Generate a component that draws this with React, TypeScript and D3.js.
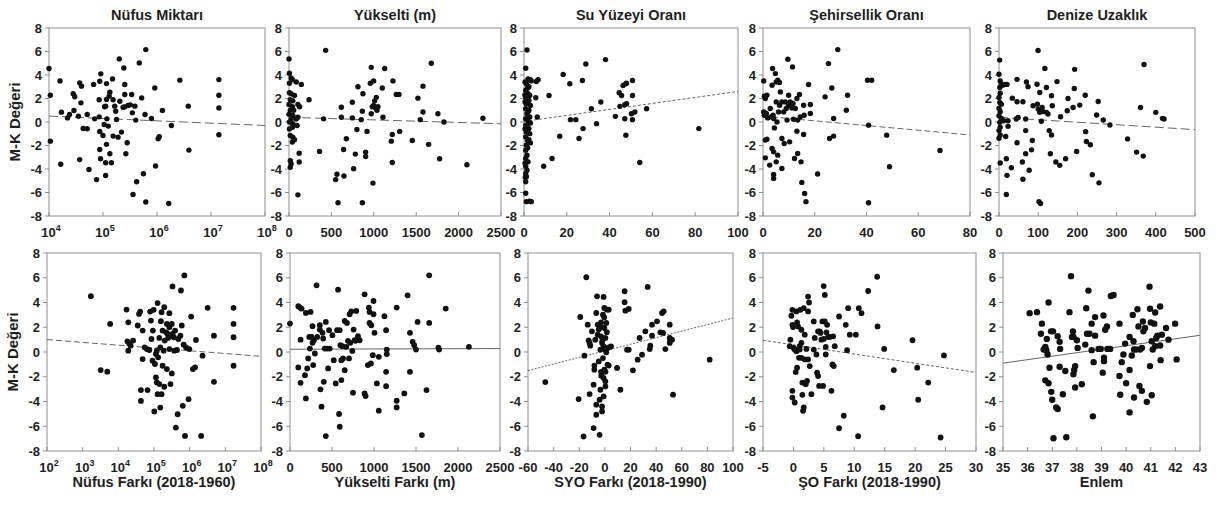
import * as d3 from 'd3';

type Pt = [number, number];

const MK_TICKS = [-8, -6, -4, -2, 0, 2, 4, 6, 8];

const TITLES = ['Nüfus Miktarı', 'Yükselti (m)', 'Su Yüzeyi Oranı', 'Şehirsellik Oranı', 'Denize Uzaklık'];
const X_LABELS = ['Nüfus Farkı (2018-1960)', 'Yükselti Farkı (m)', 'SYO Farkı (2018-1990)', 'ŞO Farkı (2018-1990)', 'Enlem'];
const Y_LABEL = 'M-K Değeri';

// top row
const nufusMiktari: Pt[] = [
  [1.0e4, 4.55], [1.06e4, 2.28], [1.06e4, -1.63], [1.6e4, 3.5], [1.7e4, 0.84], [1.65e4, -3.6], [2.2e4, 0.35], [2.4e4, 0.64],
  [2.8e4, 2.4], [3.0e4, 2.15], [2.9e4, 0.98], [3.5e4, 0.5], [3.7e4, 3.33], [4.0e4, 3.05], [3.9e4, 1.63], [3.7e4, -3.2],
  [4.3e4, -0.55], [5.1e4, -0.58], [5.1e4, 0.64], [5.5e4, -4.04], [6.7e4, 3.2], [7.0e4, 0.27], [7.6e4, -4.9], [8.5e4, 0.44],
  [8.5e4, 1.9], [8.7e4, 3.47], [9.1e4, 4.1], [8.7e4, -0.8], [8.7e4, -2.34], [9.0e4, -3.13], [1.0e5, -1.15], [1.05e5, -0.21],
  [1.07e5, 1.3], [1.12e5, 1.35], [1.16e5, 3.27], [1.16e5, 1.91], [1.18e5, 0.27], [1.12e5, -4.55], [1.12e5, -3.47], [1.16e5, -1.9],
  [1.25e5, -0.35], [1.3e5, 2.2], [1.34e5, 2.54], [1.34e5, -2.7], [1.43e5, -3.47], [1.5e5, 3.67], [1.54e5, 1.9], [1.54e5, -1.2],
  [1.65e5, 1.35], [1.72e5, 0.92], [1.78e5, 0.21], [2.0e5, 5.37], [2.05e5, 1.77], [1.9e5, -1.29], [2.2e5, -0.86], [2.36e5, 1.26],
  [2.43e5, 4.6], [2.53e5, 2.34], [2.53e5, 1.29], [2.65e5, -2.7], [2.53e5, 3.19], [2.8e5, -1.77], [2.9e5, 1.4], [3.2e5, 1.46],
  [3.4e5, 2.34], [3.5e5, 0.78], [3.6e5, -6.16], [3.9e5, 1.35], [4.2e5, -5.08], [4.05e5, 0.16], [4.7e5, 5.03], [5.2e5, 2.05],
  [5.6e5, -4.4], [6.0e5, 0.64], [6.2e5, 6.16], [6.2e5, -6.81], [7.9e5, 0.3], [9.1e5, 2.9], [9.4e5, -3.75], [1.05e6, -1.43],
  [1.1e6, -1.26], [1.26e6, 0.98], [1.65e6, -6.93], [1.85e6, -0.3], [2.65e6, 3.56], [3.8e6, 1.35], [3.9e6, -2.39],
  [1.4e7, 3.61], [1.4e7, 2.28], [1.4e7, 1.2], [1.4e7, -1.09],
];

const yukselti: Pt[] = [
  [0, 5.37], [5, 4.15], [25, 3.75], [40, 3.6], [5, 3.3], [85, 3.4], [145, 3.2], [5, 2.5], [25, 2.4], [65, 2.25], [15, 1.9],
  [45, 1.8], [0, 1.5], [40, 1.3], [105, 1.5], [125, 1.3], [15, 1.0], [55, 1.0], [0, 0.65], [45, 0.55], [25, 0.25], [85, 0.25],
  [105, 0.4], [5, 0], [45, -0.15], [95, -0.3], [5, -0.6], [40, -0.45], [15, -1.15], [45, -1.3], [65, -1.5], [40, -1.7],
  [120, -2.65], [15, -3.3], [25, -3.55], [120, -3.4], [15, -3.85], [105, -6.2], [236, 1.9], [360, -2.5], [408, 0.27],
  [432, 6.1], [550, -4.9], [566, -4.45], [578, -6.87], [617, 1.26], [617, 0.4], [648, -4.6], [644, -2.34], [676, -1.43],
  [747, 0.35], [762, -3.98], [747, 1.68], [782, -2.73], [813, 3.0], [801, -0.64], [852, 0.2], [865, -6.87], [872, 2.4],
  [865, 0.92], [904, -2.56], [904, -2.93], [920, -0.8], [959, 3.3], [970, 4.65], [970, 0.7], [982, 1.3], [998, 3.5],
  [990, -5.2], [998, 1.4], [1010, 1.8], [1022, 1.2], [1030, 2.1], [1037, 1.0], [1049, 1.3], [1100, 2.9], [1108, 0.4],
  [1128, 4.55], [1206, -1.63], [1218, -1.07], [1226, 3.5], [1218, -3.45], [1265, 2.35], [1297, 2.35], [1305, -0.8],
  [1454, -1.57], [1520, 2.03], [1548, 0.2], [1580, 0.85], [1580, 3.05], [1678, 5.0], [1646, -1.9], [1756, 0.7],
  [1776, -3.13], [1827, 0], [2098, -3.64], [2287, 0.32],
];

const suYuzeyi: Pt[] = [
  [1.4, 6.13], [0.8, 4.58], [1.9, 3.67], [3.0, 3.6], [1.1, 3.25], [2.3, 3.0], [0.8, 2.7], [1.9, 2.4], [2.7, 2.25], [0.8, 2.06],
  [2.3, 1.84], [1.1, 1.55], [3.0, 1.41], [0.8, 1.13], [2.3, 1.0], [1.4, 0.7], [2.7, 0.42], [0.8, 0.28], [1.9, 0.08], [3.0, -0.08],
  [0.8, -0.28], [2.3, -0.56], [1.1, -0.85], [2.7, -0.99], [0.8, -1.27], [2.3, -1.5], [3.0, -1.78], [1.1, -1.98], [0.8, -2.4],
  [1.4, -2.83], [0.8, -3.1], [1.9, -3.39], [0.8, -3.76], [1.4, -4.1], [0.8, -4.38], [1.1, -4.66], [0.8, -5.08], [0.8, -6.07],
  [1.1, -6.78], [2.7, -6.75], [3.4, -6.78], [0.5, 1.7], [1.7, 2.9], [0.5, -0.6], [1.7, -1.6], [0.5, -3.5], [1.7, -2.2],
  [0.5, 3.4], [2.0, 0.9], [0.6, -4.7], [1.2, 1.9], [0.4, 2.3], [1.5, -0.4],
  [5.8, 3.45], [6.6, 3.59], [5.5, 2.06], [6.2, 0.42], [3.4, 3.5], [11.7, 2.26], [9.2, -3.76], [13.1, -3.1], [16.7, -1.21],
  [18.3, 4.04], [21.4, 3.25], [21.7, 0.2], [24.2, 0.2], [25.7, -1.41], [27.3, 3.53], [27.6, -0.56], [28.9, 4.94], [31.5, 1.13],
  [33.9, -0.14], [35.9, 1.7], [38.1, 5.31], [42.7, 0.48], [44.5, 2.49], [44.8, 1.33], [45.6, 2.26], [46.3, 3.11], [47.6, 3.25],
  [47.9, 3.3], [47.1, 1.47], [47.9, 1.55], [47.1, 0.28], [47.6, -1.13], [50.7, 3.53], [50.7, 2.26], [50.2, 0.7], [50.7, 0.2],
  [51.8, 0.85], [54.1, -3.45], [57.3, 1.13], [81.7, -0.56],
];

const sehirsellik: Pt[] = [
  [0.26, 3.5], [0.5, 2.2], [0.9, 2.0], [1.5, 2.28], [0.26, 0.86], [0.5, 0.58], [1.3, 0.72], [1.8, 0.35], [0.9, -1.54], [1.5, -1.46],
  [0.9, -3.05], [2.8, 1.15], [3.1, 0.44], [2.6, -3.67], [3.5, 3.13], [3.7, 4.55], [3.9, 0.58], [4.1, 0.3], [4.4, -0.5],
  [3.5, -2.25], [4.1, -2.54], [4.1, -4.46], [4.1, -4.8], [4.8, 4.12], [5.1, 3.41], [5.7, 3.55], [5.1, 1.71], [5.4, 0.0],
  [5.1, -3.39], [5.7, -2.82], [6.4, 3.36], [6.7, 2.56], [6.4, 1.43], [6.0, 0.86], [7.3, 1.71], [7.3, -1.4], [7.3, -3.95],
  [8.0, 0.86], [8.2, -1.83], [8.6, 1.71], [9.0, 1.15], [9.3, 0.16], [9.9, 1.43], [9.9, 2.28], [10.3, -1.69], [10.5, 1.71],
  [11.2, 1.2], [11.6, 1.57], [11.4, 4.69], [11.8, 0.24], [12.2, -3.1], [12.5, 1.15], [13.1, 2.0], [13.4, -2.68], [13.1, -0.78],
  [13.4, 0.16], [14.1, 2.34], [14.7, -3.39], [14.4, 0.44], [15.0, -5.14], [15.7, -1.06], [15.7, 1.43], [16.1, -6.08],
  [16.6, -6.78], [15.9, 0.58], [17.6, 3.19], [18.3, 1.49], [18.3, 0.72], [9.6, 5.34], [21.1, -4.43], [24.0, 2.14], [25.3, 4.97],
  [25.7, -1.4], [26.6, 2.9], [27.3, 0.3], [27.3, -1.2], [28.9, 6.16], [32.2, 1.0], [32.7, 2.28], [40.4, 3.55], [40.8, -0.27],
  [40.8, -6.87], [42.0, 3.55], [47.8, -1.12], [48.9, -3.81], [68.4, -2.42],
];

const denizeUzaklik: Pt[] = [
  [1.7, 5.27], [0, 4.06], [3, 3.5], [6, 3.2], [2, 2.93], [9, 3.13], [14.5, 3.2], [3, 2.45], [0, 2.08], [2, 1.66], [6, 1.52],
  [0, 1.15], [3, 0.87], [0, 0.54], [6, 0.31], [2, -0.03], [3, -0.45], [0, -0.73], [3, -1.1], [0, -1.38], [3, -3.49],
  [12, 0.11], [17, -1.24], [20.4, 3.2], [18.7, -3.13], [20.4, -4.54], [18.7, -6.17], [23, 0.11], [23, -0.37], [31.5, -3.89],
  [34, 2.03], [46, 3.63], [46, 1.72], [44, 0.25], [46, -1.77], [48.6, 0.39], [59.6, -3.41], [61, -4.87], [61, 1.72], [68, 0.25],
  [70, 3.41], [68, -0.73], [68, -2.7], [74, 3.01], [77, -4.11], [83, -2.37], [85, -1.58], [87, 1.38], [98, 1.52], [99.7, 6.08],
  [97, 3.21], [100, 1.1], [104, 0.82], [102, -6.79], [106, -6.93], [104, 2.51], [108, 1.1], [110, 1.24], [108, 0.06], [112, 0.9],
  [117, 4.56], [121, 2.93], [121, 0.82], [125, 0.68], [128, -0.73], [131, -2.7], [134, 2.23], [136, 1.38], [134, -1.1],
  [145, -3.41], [148, 3.44], [155, -3.69], [157, 0.45], [170, -3.13], [174, 0.96], [176, 2.0], [189, 1.24], [192, 2.85],
  [193, 4.48], [198, -2.51], [206, 1.44], [220, 2.28], [221, -0.82], [223, -1.66], [233, -1.94], [238, -4.48], [249, 0.59],
  [253, 1.75], [255, -5.18], [266, 0.17], [283, -0.25], [328, -1.44], [351, -2.56], [361, 1.24], [368, -2.9], [370, 4.9],
  [400, 0.82], [417, 0.31], [421, 0.25],
];

// bottom row
const nufusFarki: Pt[] = [
  [1.7e3, 4.51], [3.2e3, -1.46], [4.9e3, -1.59], [5.9e3, 2.27], [1.7e4, 3.43], [1.9e4, 2.4], [1.8e4, 0.86], [2.0e4, 0.7],
  [1.9e4, 0.11], [2.2e4, 0.51], [2.6e4, 0.92], [3.5e4, 2.14], [3.8e4, 3.08], [4.1e4, 3.27], [4.3e4, -3.08], [4.3e4, -3.95],
  [4.8e4, 1.73], [4.8e4, -0.57], [5.5e4, 0.38], [6.3e4, 0.24], [6.6e4, -3.08], [7.4e4, 0.16], [7.8e4, 3.27], [8.2e4, 2.54],
  [8.5e4, 1.05], [9.1e4, -0.7], [9.3e4, 1.73], [9.8e4, 3.41], [1.02e5, -4.81], [1.06e5, -0.97], [1.13e5, -0.16], [1.2e5, 0.11],
  [1.13e5, -2.05], [1.2e5, -2.46], [1.26e5, 3.95], [1.26e5, -3.41], [1.31e5, -0.43], [1.41e5, 1.14], [1.41e5, -2.59],
  [1.5e5, -4.49], [1.5e5, 0.38], [1.56e5, 2.49], [1.63e5, 3.22], [1.63e5, -3.41], [1.74e5, 1.73], [1.74e5, -1.11],
  [1.86e5, 0.11], [1.94e5, 3.62], [1.94e5, -2.81], [2.0e5, 0.92], [2.2e5, 1.59], [2.3e5, -1.38], [2.3e5, 2.27], [2.4e5, 1.46],
  [2.5e5, 1.14], [2.7e5, 3.14], [2.7e5, 2.0], [2.7e5, 0.24], [2.9e5, -2.59], [3.0e5, 1.32], [3.15e5, 2.27], [3.15e5, -1.73],
  [3.3e5, 5.3], [3.3e5, 1.46], [3.6e5, 1.19], [3.7e5, 0.11], [3.9e5, 1.73], [4.4e5, 0.16], [4.1e5, -6.11], [4.6e5, -5.03],
  [4.8e5, 1.05], [5.5e5, 1.32], [5.7e5, 4.97], [6.0e5, 2.14], [6.4e5, -4.35], [6.8e5, 0.59], [7.1e5, 6.19], [7.4e5, -6.78],
  [7.9e5, 0.38], [9.3e5, -3.81], [9.8e5, 0.24], [1.1e6, 2.86], [1.23e6, -1.38], [1.42e6, -1.24], [1.5e6, 0.97], [2.3e6, -0.3],
  [2.1e6, -6.78], [3.2e6, 3.57], [4.8e6, 1.32], [4.8e6, -2.41], [1.7e7, 3.57], [1.7e7, 2.27], [1.7e7, 1.19], [1.7e7, -1.11],
];

const yukseltiFarki: Pt[] = [
  [0, 2.3], [99, 3.7], [118, 3.59], [138, 3.51], [99, -1.25], [126, 1.0], [126, -2.49], [189, 3.16], [189, -3.75], [178, -1.87],
  [205, -1.33], [217, -0.52], [229, 1.22], [237, 0.28], [245, 3.24], [257, 1.22], [268, 2.08], [268, 0.74], [276, -1.06],
  [284, 0.95], [296, -0.12], [316, 5.39], [324, 1.22], [355, 2.16], [355, 1.81], [363, -3.02], [375, -4.42], [387, 1.55],
  [395, 1.09], [402, -2.41], [414, 0.28], [426, 2.43], [426, -6.79], [442, 0.28], [454, -1.33], [465, 1.76], [473, 0.28],
  [505, 1.36], [521, -0.66], [544, -2.54], [560, 1.76], [572, 5.04], [584, -5.01], [592, -6.04], [592, 1.76], [600, 0.55],
  [611, -0.66], [611, -2.27], [623, 0.47], [631, -0.52], [651, -1.47], [651, 2.51], [670, 0.42], [678, 2.35], [690, 0.9],
  [702, -0.52], [710, 3.05], [718, 0.74], [730, 3.29], [742, 0.09], [750, -3.29], [757, 1.81], [769, 0.95], [781, 0.9],
  [789, 3.32], [809, 1.28], [829, 0.95], [888, 4.66], [888, -3.35], [900, -3.56], [927, -1.06], [939, 3.59], [947, 3.24],
  [947, 2.35], [963, -0.93], [967, 2.16], [986, -0.26], [994, 4.12], [994, 3.05], [1006, 1.55], [1034, -2.54], [1057, -4.74],
  [1057, -0.39], [1124, 2.89], [1144, 1.76], [1144, -1.6], [1144, -2.76], [1152, 0.2], [1152, -0.17], [1270, 3.59],
  [1270, -3.94], [1270, -4.48], [1361, -3.35], [1400, 4.58], [1428, 1.55], [1428, -1.6], [1460, 0.82], [1479, 0.55],
  [1500, 0.2], [1519, 2.43], [1570, -6.71], [1625, -3.08], [1657, 6.2], [1657, 2.35], [1767, 0.36], [1775, 0.2], [1854, 3.51],
  [2130, 0.42],
];

const syoFarki: Pt[] = [
  [-46.5, -2.43], [-20.5, -3.8], [-19.2, 2.83], [-16.0, -0.3], [-16.6, -6.83], [-14.5, 6.04], [-13.4, 2.21], [-12.7, 0.94],
  [-11.9, 0.73], [-11.4, 0.51], [-11.9, -3.4], [-10.1, 1.67], [-8.8, -2.64], [-8.8, -6.15], [-8.2, -1.43], [-8.2, -1.1],
  [-7.5, 1.0], [-6.7, 3.15], [-6.7, -4.26], [-6.7, -5.07], [-6.1, 4.5], [-5.6, 2.21], [-5.6, 1.4], [-4.8, 1.81], [-4.8, -0.76],
  [-4.1, -3.86], [-4.1, -6.69], [-3.5, 0.19], [-3.5, -3.05], [-3.0, 2.4], [-3.0, 1.27], [-2.8, -1.92], [-2.2, 0.73],
  [-2.2, -4.4], [-2.2, -4.8], [-1.5, -0.49], [-1.5, 3.02], [-1.0, 4.45], [-1.0, 0.46], [-1.0, -3.59], [-0.4, 3.56],
  [-0.4, 1.94], [-0.4, -1.43], [0.4, 1.13], [0.4, 0.19], [0.4, -2.37], [0.4, -2.78], [1.1, 2.35], [1.1, -0.03], [1.6, 3.42],
  [2.1, 0.32], [2.1, -1.02], [3.0, 3.42], [3.7, 0.4], [3.0, -1.1], [4.8, 0.46], [-2.5, 2.0], [-0.5, 2.8], [-3.0, -1.6],
  [-1.0, -2.1], [1.5, 1.6], [-2.0, 0.9], [0.5, -1.6],
  [9.5, -1.29], [12.1, -3.05], [15.4, 4.91], [15.4, 4.02], [16.0, 3.34], [17.3, 0.19], [18.6, 3.48], [18.6, 0.19],
  [21.9, -1.48], [25.6, -0.62], [27.1, 1.13], [29.0, -0.22], [31.6, 1.67], [33.4, 5.26], [35.0, 0.24], [35.5, 0.51],
  [36.8, 1.32], [36.8, 2.21], [40.7, 2.48], [43.3, 1.59], [44.6, 3.15], [45.4, 1.54], [45.9, 3.29], [47.2, 0.24], [50.6, 2.21],
  [50.6, 1.13], [50.6, 0.73], [51.1, 0.94], [52.4, 1.0], [53.2, -3.45], [81.8, -0.62],
];

const soFarki: Pt[] = [
  [-0.5, 1.0], [-0.61, 0.47], [-0.17, 3.41], [-0.34, 2.93], [-0.17, 2.2], [-0.06, 2.02], [-0.17, -3.14], [-0.17, -3.68],
  [0.05, 0.33], [0.21, 0.2], [0.21, -4.08], [0.38, -1.62], [0.49, 0.07], [0.49, 3.28], [0.6, 2.39], [0.76, 2.07], [0.6, -1.27],
  [0.92, -0.47], [1.03, 0.47], [1.03, 0.2], [1.14, 3.41], [1.31, 1.8], [1.31, 0.74], [1.31, -0.47], [1.47, -2.47], [1.47, -3.46],
  [1.58, -4.75], [1.69, -4.48], [1.69, 3.54], [1.86, 1.4], [1.86, -0.6], [2.02, -2.61], [2.13, 0.25], [2.24, -2.34], [2.41, 4.48],
  [2.41, -0.6], [2.41, 3.28], [2.57, 4.0], [2.68, -1.14], [2.95, -3.41], [3.34, 2.47], [3.34, 0.2], [3.5, 1.14], [3.78, -0.2],
  [3.89, -1.67], [4.05, -1.94], [4.05, 1.67], [4.22, -2.74], [4.33, 1.67], [4.44, 1.54], [4.6, 1.0], [4.76, 2.47], [4.87, -2.74],
  [4.98, 5.33], [4.98, 1.06], [5.15, 4.61], [5.15, 2.47], [5.31, 0.41], [5.31, -0.2], [5.42, 1.59], [5.53, 2.2], [5.7, 1.22],
  [5.97, 1.22], [6.25, -3.14], [6.41, -1.0], [6.52, 1.27], [6.63, -1.14], [6.79, 0.47], [7.5, 2.87], [7.5, -6.16], [8.27, -5.15],
  [8.6, 2.2], [8.82, 0.15], [8.99, 3.54], [9.26, 1.4], [10.25, 1.4], [10.63, -6.81], [10.74, 3.54], [11.18, 3.14], [12.28, 4.93],
  [13.76, 6.08], [13.82, 2.07], [14.64, -4.48], [14.91, 0.25], [16.5, -1.46], [19.57, 0.95], [20.34, -1.27], [20.5, -3.86],
  [22.15, -2.47], [24.18, -6.91], [24.73, -0.28],
];

const enlem: Pt[] = [
  [36.08, 3.14], [36.38, 3.22], [36.58, 2.29], [36.54, 1.48], [36.65, 0.2], [36.72, 0.41], [36.78, 1.06], [36.76, 0.15],
  [36.81, -0.2], [36.85, 4.0], [36.72, -2.29], [36.85, -2.53], [36.89, -1.27], [36.95, 1.67], [36.96, -3.22], [37.0, -3.86],
  [37.03, 1.67], [37.05, -6.97], [37.16, -4.48], [37.22, -4.61], [37.22, 1.27], [37.3, 0.82], [37.32, 0.25], [37.3, -1.19],
  [37.43, -3.41], [37.53, -1.54], [37.57, -6.89], [37.7, 3.22], [37.76, 6.13], [37.8, 1.22], [37.84, 1.67], [37.86, 1.22],
  [37.86, -1.8], [37.89, -1.46], [37.93, -1.14], [37.93, -2.87], [38.0, 0.95], [38.03, 0.33], [38.2, -2.61], [38.34, 0.6],
  [38.38, 3.54], [38.41, 1.48], [38.47, 4.96], [38.51, 1.48], [38.6, 2.29], [38.6, 0.15], [38.68, -0.82], [38.65, -5.2],
  [38.74, 2.82], [38.74, 1.32], [38.88, 0.25], [38.97, 0.25], [39.05, -1.67], [39.08, 2.95], [39.1, -0.47], [39.15, 1.8],
  [39.1, -0.74], [39.22, 2.07], [39.24, 0.25], [39.38, 4.53], [39.49, 4.61], [39.35, 0.25], [39.73, 2.29], [39.73, -1.94],
  [39.76, -3.46], [39.82, -0.82], [39.89, -0.2], [39.96, 0.68], [40.0, -2.53], [40.14, 1.22], [40.14, -1.46], [40.14, -4.88],
  [40.23, -0.28], [40.27, 3.0], [40.3, 0.87], [40.32, 0.2], [40.32, -3.68], [40.41, 0.2], [40.46, 3.46], [40.5, 2.07],
  [40.54, -2.74], [40.57, 0.2], [40.64, 0.33], [40.64, -3.14], [40.68, 2.47], [40.7, 1.67], [40.77, 1.94], [40.84, -4.03],
  [40.95, 5.28], [40.97, 3.49], [40.97, -1.14], [41.0, 2.39], [41.04, 0.87], [41.04, -3.49], [41.08, 0.2], [41.14, 2.29],
  [41.18, 3.19], [41.18, 0.47], [41.22, 1.14], [41.27, 1.32], [41.38, 3.68], [41.38, 0.52], [41.4, -0.66], [41.45, 1.4],
  [41.62, 1.94], [41.72, 1.0], [41.99, 2.29], [42.05, -0.6],
];

// fitted lines, [x0, y0, x1, y1]
const TRENDS_TOP: [number, number, number, number][] = [
  [1e4, 0.5, 1e8, -0.3], [0, 0.4, 2500, -0.15], [0, 0.05, 100, 2.6], [0, 0.5, 80, -1.1], [0, 0.4, 500, -0.65],
];
const TRENDS_BOTTOM: [number, number, number, number][] = [
  [1e2, 1.0, 1e8, -0.35], [0, 0.22, 2500, 0.28], [-60, -1.5, 100, 2.75], [-5, 0.95, 30, -1.65], [35, -0.9, 43, 1.35],
];

const X_TICKS_TOP = [[4, 5, 6, 7, 8], [0, 500, 1000, 1500, 2000, 2500], [0, 20, 40, 60, 80, 100], [0, 20, 40, 60, 80], [0, 100, 200, 300, 400, 500]];
const X_TICKS_BOTTOM = [[2, 3, 4, 5, 6, 7, 8], [0, 500, 1000, 1500, 2000, 2500], [-60, -40, -20, 0, 20, 40, 60, 80, 100], [-5, 0, 5, 10, 15, 20, 25, 30], [35, 36, 37, 38, 39, 40, 41, 42, 43]];

const FONT = '"Liberation Sans", Arial, Helvetica, sans-serif';
const FRAME = '#8f8f8f';
const INK = '#1e1e1e';

type PanelSpec = {
  data: Pt[];
  log: boolean;
  ticks: number[];
  trend: [number, number, number, number];
  dash: string;
  r: number;
  x0: number;
  x1: number;
  y0: number;
  y1: number;
  title?: string;
  xLabel?: string;
  yLabelX?: number;
};

function Panel({ p }: { p: PanelSpec }) {
  const dom = p.log ? [10 ** p.ticks[0], 10 ** p.ticks[p.ticks.length - 1]] : [p.ticks[0], p.ticks[p.ticks.length - 1]];
  const x: any = p.log ? d3.scaleLog().domain(dom).range([p.x0, p.x1]) : d3.scaleLinear().domain(dom).range([p.x0, p.x1]);
  const y = d3.scaleLinear().domain([-8, 8]).range([p.y1, p.y0]);
  const [tx0, ty0, tx1, ty1] = p.trend;
  const cx = (p.x0 + p.x1) / 2;
  return (
    <g>
      {p.title && (
        <text x={cx} y={p.y0 - 8} textAnchor="middle" fontSize={14.5} fontWeight="bold" fill={INK}>{p.title}</text>
      )}
      <rect x={p.x0} y={p.y0} width={p.x1 - p.x0} height={p.y1 - p.y0} fill="none" stroke={FRAME} strokeWidth={1} />
      {MK_TICKS.map((t) => (
        <g key={'y' + t}>
          <line x1={p.x0 - 4} x2={p.x0} y1={y(t)} y2={y(t)} stroke={FRAME} />
          <text x={p.x0 - 7} y={y(t)} dy="0.36em" textAnchor="end" fontSize={13} fontWeight="bold" fill={INK}>{t}</text>
        </g>
      ))}
      {p.ticks.map((t) => {
        const xv = p.log ? x(10 ** t) : x(t);
        return (
          <g key={'x' + t}>
            <line x1={xv} x2={xv} y1={p.y1} y2={p.y1 - 4} stroke={FRAME} />
            {p.log ? (
              <text x={xv + 2} y={p.y1 + 21} textAnchor="middle" fontSize={13} fontWeight="bold" fill={INK}>
                10<tspan fontSize={9} dy={-6}>{t}</tspan>
              </text>
            ) : (
              <text x={xv} y={p.y1 + 21} textAnchor="middle" fontSize={13} fontWeight="bold" fill={INK}>{t}</text>
            )}
          </g>
        );
      })}
      <line x1={x(tx0)} y1={y(ty0)} x2={x(tx1)} y2={y(ty1)} stroke="#666" strokeWidth={1} strokeDasharray={p.dash} />
      {p.data.map((d, i) => (
        <circle key={i} cx={x(d[0])} cy={y(d[1])} r={p.r} fill="#111" />
      ))}
      {p.xLabel && (
        <text x={cx} y={p.y1 + 36} textAnchor="middle" fontSize={14.5} fontWeight="bold" fill={INK}>{p.xLabel}</text>
      )}
      {p.yLabelX !== undefined && (
        <text transform={`translate(${p.yLabelX},${(p.y0 + p.y1) / 2}) rotate(-90)`} textAnchor="middle" fontSize={15} fontWeight="bold" fill={INK}>
          {Y_LABEL}
        </text>
      )}
    </g>
  );
}

const TOP_COLS = [[49, 265], [289, 501], [524, 738], [763, 970], [999, 1195]];
const BOTTOM_COLS = [[47, 261], [290, 500], [528, 733], [763, 976], [1003, 1200]];
const TOP_DASH = ['9,4', '9,4', '3,2', '6,3', '9,4'];
const BOTTOM_DASH = ['6,3', '', '2,1.5', '3,2', ''];

export default function App() {
  const topData = [nufusMiktari, yukselti, suYuzeyi, sehirsellik, denizeUzaklik];
  const bottomData = [nufusFarki, yukseltiFarki, syoFarki, soFarki, enlem];
  const panels: PanelSpec[] = [];
  topData.forEach((data, i) => {
    panels.push({
      data, log: i === 0, ticks: X_TICKS_TOP[i], trend: TRENDS_TOP[i], dash: TOP_DASH[i], r: 2.7,
      x0: TOP_COLS[i][0], x1: TOP_COLS[i][1], y0: 28, y1: 216, title: TITLES[i], yLabelX: i === 0 ? 20 : undefined,
    });
  });
  bottomData.forEach((data, i) => {
    panels.push({
      data, log: i === 0, ticks: X_TICKS_BOTTOM[i], trend: TRENDS_BOTTOM[i], dash: BOTTOM_DASH[i], r: i === 4 ? 3.2 : 2.9,
      x0: BOTTOM_COLS[i][0], x1: BOTTOM_COLS[i][1], y0: 253, y1: 451, xLabel: X_LABELS[i], yLabelX: i === 0 ? 18 : undefined,
    });
  });
  return (
    <svg width={1223} height={507} style={{ position: 'absolute', left: 0, top: 0, background: '#fff', fontFamily: FONT }}>
      <rect width={1223} height={507} fill="#fff" />
      {panels.map((p, i) => (
        <Panel key={i} p={p} />
      ))}
    </svg>
  );
}
